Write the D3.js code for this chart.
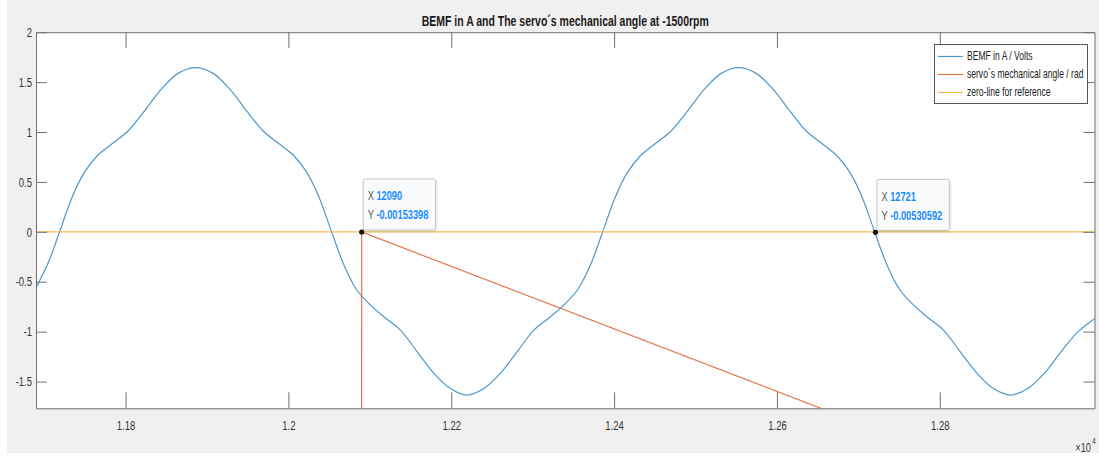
<!DOCTYPE html>
<html>
<head>
<meta charset="utf-8">
<script src="https://cdn.jsdelivr.net/npm/d3@7"></script>
<style>
  html, body { margin: 0; padding: 0; background: #fff; }
  svg { display: block; }
  text { font-family: "Liberation Sans", Arial, Helvetica, sans-serif; }
</style>
</head>
<body>
<svg id="chart" width="1099" height="456"></svg>
<script>
// values
var bemfX = [11690, 11705, 11719, 11734, 11749, 11765, 11783, 11803, 11824, 11845, 11865, 11886,
  11907, 11927, 11948, 11969, 11989, 12007, 12023, 12038, 12053,
  12068, 12083, 12099, 12117, 12137, 12158, 12179, 12199, 12219,
  12240, 12260, 12281, 12302, 12322, 12340, 12356, 12371, 12386,
  12401, 12416, 12432, 12450, 12470, 12491, 12512, 12532, 12553,
  12574, 12594, 12615, 12636, 12656, 12674, 12690, 12705, 12720,
  12735, 12750, 12766, 12784, 12804, 12825, 12846, 12866, 12887,
  12908, 12928, 12949, 12970, 12990];
var bemfY = [-0.56, -0.31, 0, 0.34, 0.59, 0.76, 0.88, 1.01, 1.22, 1.44, 1.59, 1.645,
  1.59, 1.44, 1.22, 1.01, 0.88, 0.76, 0.59, 0.34, 0,
  -0.33, -0.57, -0.72, -0.85, -0.98, -1.2, -1.42, -1.57, -1.635,
  -1.57, -1.42, -1.2, -0.98, -0.85, -0.72, -0.57, -0.33, 0,
  0.34, 0.59, 0.76, 0.88, 1.01, 1.22, 1.44, 1.59, 1.645,
  1.59, 1.44, 1.22, 1.01, 0.88, 0.76, 0.59, 0.34, 0,
  -0.33, -0.57, -0.72, -0.85, -0.98, -1.2, -1.42, -1.57, -1.635,
  -1.57, -1.42, -1.2, -1.0, -0.87];

var angleX = [11690, 12089.9, 12090, 12990];
var angleY = [-5.03, -6.28, -0.00153398, -2.82];

var zeroX = [11690, 12990];
var zeroY = [0, 0];

var xTicks = [11800, 12000, 12200, 12400, 12600, 12800];
var xTickLabels = ['1.18', '1.2', '1.22', '1.24', '1.26', '1.28'];
var yTicks = [-1.5, -1, -0.5, 0, 0.5, 1, 1.5, 2];
var yTickLabels = ['-1.5', '-1', '-0.5', '0', '0.5', '1', '1.5', '2'];

var legendLabels = ['BEMF in A / Volts', 'servo\u00b4s mechanical angle / rad', 'zero-line for reference'];
var tipX = [12090, 12721];
var tipY = [-0.00153398, -0.00530592];
var tipXLabels = ['12090', '12721'];
var tipYLabels = ['-0.00153398', '-0.00530592'];

var titleText = 'BEMF in A and The servo\u00b4s mechanical angle at -1500rpm';
var colors = ['#4d97d0', '#e2744a', '#edbd4e'];

var svg = d3.select('#chart');
var L = 36, R = 1094.5, T = 32.2, B = 408.3;

var x = d3.scaleLinear().domain([11690, 12990]).range([L, R]);
var y = d3.scaleLinear().domain([-1.768, 2]).range([B, T]);

// figure background
svg.append('rect').attr('x', 7).attr('y', 0).attr('width', 1092).attr('height', 453)
  .attr('fill', '#f0f0f0');
svg.append('rect').attr('x', L).attr('y', T).attr('width', R - L).attr('height', B - T)
  .attr('fill', '#fff');

svg.append('clipPath').attr('id', 'clip')
  .append('rect').attr('x', L).attr('y', T).attr('width', R - L).attr('height', B - T);

var plot = svg.append('g').attr('clip-path', 'url(#clip)');

function series(xs, ys) { return xs.map(function (d, i) { return [d, ys[i]]; }); }
var line = d3.line().x(function (d) { return x(d[0]); }).y(function (d) { return y(d[1]); });

plot.append('path')
  .datum(series(bemfX, bemfY))
  .attr('fill', 'none').attr('stroke', colors[0]).attr('stroke-width', 1.2)
  .attr('d', line.curve(d3.curveCatmullRom.alpha(0.5)));

line.curve(d3.curveLinear);
plot.append('path')
  .datum(series(angleX, angleY))
  .attr('fill', 'none').attr('stroke', colors[1]).attr('stroke-width', 1.2)
  .attr('d', line);

plot.append('path')
  .datum(series(zeroX, zeroY))
  .attr('fill', 'none').attr('stroke', colors[2]).attr('stroke-width', 1.2)
  .attr('d', line);

// axes, MATLAB style box with inward ticks
var axisColor = '#6f6f6f';
function styleAxis(g) {
  g.selectAll('path, line').attr('stroke', axisColor);
  g.selectAll('text').attr('fill', '#333').style('font-size', '13.3px');
}
svg.append('g').attr('transform', 'translate(0,' + B + ')')
  .call(d3.axisBottom(x).tickValues(xTicks).tickSizeInner(-16).tickSizeOuter(0).tickPadding(12.5)
    .tickFormat(function (d, i) { return xTickLabels[i]; }))
  .call(styleAxis);
svg.append('g').attr('transform', 'translate(0,' + T + ')')
  .call(d3.axisTop(x).tickValues(xTicks).tickSizeInner(-16).tickSizeOuter(0).tickFormat(''))
  .call(styleAxis);
svg.append('g').attr('transform', 'translate(' + L + ',0)')
  .call(d3.axisLeft(y).tickValues(yTicks).tickSizeInner(-11).tickSizeOuter(0).tickPadding(4)
    .tickFormat(function (d, i) { return yTickLabels[i]; }))
  .call(styleAxis);
svg.append('g').attr('transform', 'translate(' + R + ',0)')
  .call(d3.axisRight(y).tickValues(yTicks).tickSizeInner(-11).tickSizeOuter(0).tickFormat(''))
  .call(styleAxis);
svg.selectAll('.domain').attr('stroke', axisColor);

// title
var title = svg.append('text').attr('x', (L + R) / 2).attr('y', 26)
  .attr('text-anchor', 'middle').style('font-size', '14.7px').style('font-weight', 'bold')
  .attr('fill', '#1a1a1a').text(titleText);

// the screenshot's text is horizontally condensed; squeeze every label by the same factor
var f = 287 / title.node().getComputedTextLength();
function squeeze(sel) {
  sel.each(function () {
    var t = d3.select(this);
    var x0 = +t.attr('x') || 0;
    t.attr('transform', 'matrix(' + f + ',0,0,1,' + (x0 * (1 - f)) + ',0)');
  });
}

// exponent label
svg.append('text').attr('x', 1091).attr('y', 452).attr('text-anchor', 'end')
  .attr('fill', '#333').style('font-size', '13px').text('\u00d710').call(squeeze);
svg.append('text').attr('x', 1092).attr('y', 444).attr('fill', '#333')
  .style('font-size', '9.5px').text('4').call(squeeze);

// legend
var leg = svg.append('g');
leg.append('rect').attr('x', 934.5).attr('y', 44.5).attr('width', 153).attr('height', 59)
  .attr('fill', '#fff').attr('stroke', '#555');
var legRows = [56.5, 74.5, 92.5];
legendLabels.forEach(function (lab, i) {
  leg.append('line').attr('x1', 938).attr('x2', 963).attr('y1', legRows[i]).attr('y2', legRows[i])
    .attr('stroke', colors[i]).attr('stroke-width', 1.2);
  leg.append('text').attr('x', 967).attr('y', legRows[i] + 4)
    .attr('fill', '#222').style('font-size', '12px').text(lab).call(squeeze);
});

// data tips
tipX.forEach(function (tx, i) {
  var px = x(tx), py = y(tipY[i]);
  var g = svg.append('g');
  var box = g.append('rect').attr('x', px + 1.5).attr('y', py - 53).attr('rx', 2)
    .attr('height', 51).attr('fill', '#fafbfd').attr('stroke', '#c4c6cc')
    .style('filter', 'drop-shadow(1px 1px 1px rgba(0,0,0,0.12))');
  var rows = [['X', tipXLabels[i], py - 31.5], ['Y', tipYLabels[i], py - 12.5]];
  var right = 0;
  rows.forEach(function (r) {
    var k = g.append('text').attr('x', px + 6).attr('y', r[2]).attr('fill', '#555')
      .style('font-size', '13px').text(r[0]);
    var vx = px + 6 + (k.node().getComputedTextLength() + 3.5) * f;
    var v = g.append('text').attr('x', vx).attr('y', r[2]).attr('fill', '#1a8cff')
      .style('font-size', '13px').style('font-weight', 'bold').text(r[1]);
    right = Math.max(right, vx + v.node().getComputedTextLength() * f);
    k.call(squeeze);
    v.call(squeeze);
  });
  box.attr('width', right + 7 - (px + 1.5));
  g.append('circle').attr('cx', px).attr('cy', py).attr('r', 2.6).attr('fill', '#111');
});

squeeze(svg.selectAll('.tick text'));
squeeze(title);
</script>
</body>
</html>
